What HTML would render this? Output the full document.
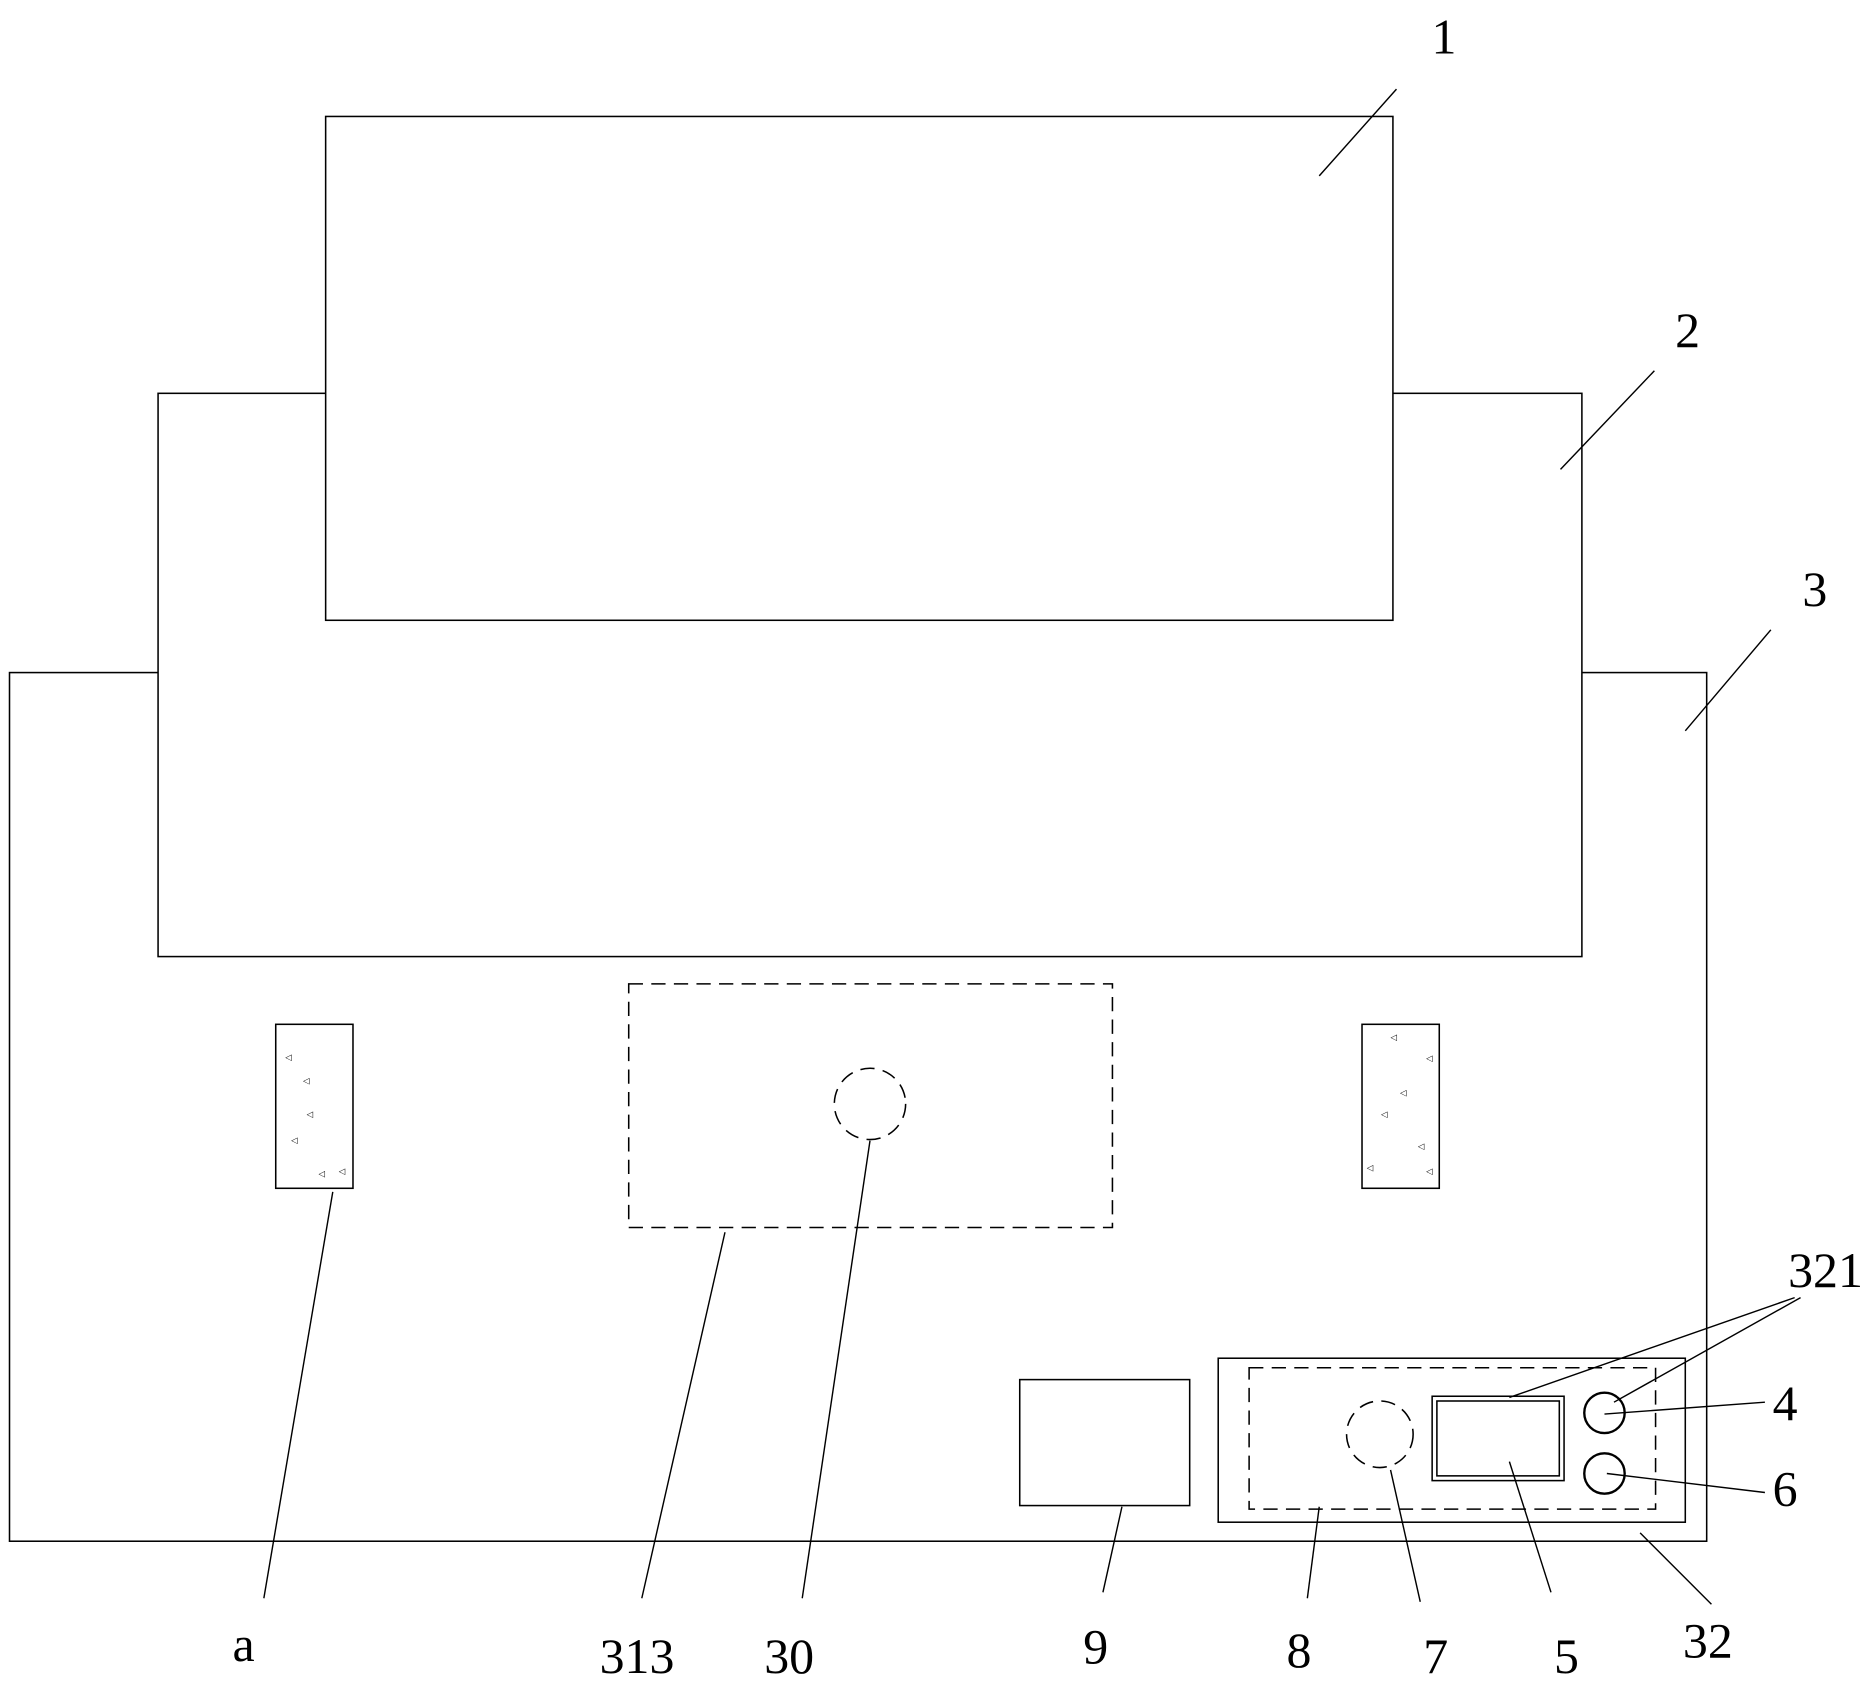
<!DOCTYPE html>
<html><head><style>html,body{margin:0;padding:0;background:#fff}svg{display:block}</style></head>
<body>
<svg width="1860" height="1685" viewBox="0 0 1565 1418" preserveAspectRatio="none" xmlns="http://www.w3.org/2000/svg">
<g fill="#fff" stroke="#000" stroke-width="1.3">
<rect x="8" y="566" width="1428" height="731"/>
<rect x="133" y="331" width="1198" height="474"/>
<rect x="274" y="98" width="898" height="424"/>
<rect x="529" y="828" width="407" height="205" stroke-dasharray="12,7"/>
<circle cx="732" cy="929" r="30" stroke-dasharray="12,7"/>
<rect x="232" y="862" width="65" height="138"/>
<rect x="1146" y="862" width="65" height="138"/>
<rect x="858" y="1161" width="143" height="106"/>
<rect x="1025" y="1143" width="393" height="138"/>
<rect x="1051" y="1151" width="342" height="119" stroke-dasharray="12,7"/>
<circle cx="1161" cy="1207" r="28" stroke-dasharray="12,7"/>
<rect x="1205" y="1175" width="111" height="71"/>
<rect x="1209" y="1179" width="103" height="63"/>
<circle cx="1350" cy="1189" r="17" stroke-width="2"/>
<circle cx="1350" cy="1240" r="17" stroke-width="2"/>
</g>
<g fill="#000" font-size="7" font-family="Liberation Sans, sans-serif">
<text x="240" y="892">◁</text><text x="255" y="912">◁</text><text x="258" y="940">◁</text><text x="245" y="962">◁</text><text x="268" y="990">◁</text><text x="285" y="988">◁</text>
<text x="1170" y="875">◁</text><text x="1200" y="893">◁</text><text x="1178" y="922">◁</text><text x="1162" y="940">◁</text><text x="1193" y="967">◁</text><text x="1200" y="988">◁</text><text x="1150" y="985">◁</text>
</g>
<g stroke="#000" stroke-width="1.2" fill="none">
<path d="M1110 148L1175 75"/><path d="M1313 395L1392 312"/><path d="M1418 615L1490 530"/>
<path d="M1270 1176L1510 1092"/><path d="M1358 1180L1515 1092"/>
<path d="M1350 1190L1485 1180"/><path d="M1352 1240L1485 1256"/>
<path d="M1380 1290L1440 1350"/><path d="M1270 1230L1305 1340"/>
<path d="M1170 1237L1195 1348"/><path d="M1110 1268L1100 1345"/>
<path d="M944 1268L928 1340"/><path d="M732 960L675 1345"/>
<path d="M610 1037L540 1345"/><path d="M280 1003L222 1345"/>
</g>
<g font-family="Liberation Serif, serif" font-size="42" fill="#000" text-anchor="middle">
<text x="1215" y="45">1</text><text x="1420" y="292">2</text><text x="1527" y="510">3</text>
<text x="1536" y="1083">321</text><text x="1502" y="1195">4</text><text x="1502" y="1267">6</text>
<text x="1437" y="1395">32</text><text x="1318" y="1408">5</text><text x="1208" y="1408">7</text>
<text x="1093" y="1403">8</text><text x="922" y="1400">9</text><text x="664" y="1408">30</text>
<text x="536" y="1408">313</text><text x="205" y="1398">a</text>
</g>
</svg>
</body></html>
